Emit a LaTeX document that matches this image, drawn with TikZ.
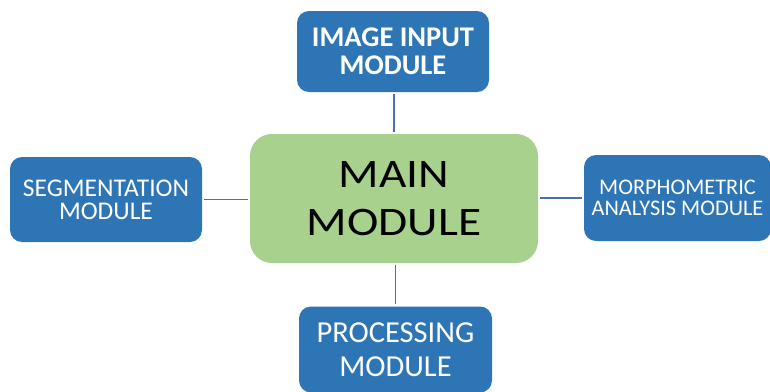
\documentclass[tikz,border=0pt]{standalone}
\usepackage{fontspec}
\setmainfont{Carlito}
\newfontfamily\widefont[FakeStretch=1.17]{Carlito}
\definecolor{boxblue}{HTML}{2E75B6}
\definecolor{boxgreen}{HTML}{A9D18E}
\definecolor{linkblue}{HTML}{4A6FB5}
\begin{document}
\begin{tikzpicture}[x=1pt,y=-1pt,
  modbox/.style={fill=boxblue, draw=none, rounded corners=12pt, text=white, align=center, inner sep=0pt, minimum width=192pt, minimum height=85pt},
  mainbox/.style={fill=boxgreen, draw=none, rounded corners=22pt, text=black, align=center, inner sep=0pt, minimum width=288pt, minimum height=129pt},
  link/.style={draw=linkblue, line width=1.3pt, shorten <=2pt, shorten >=2pt}]
\useasboundingbox (0,0) rectangle (770,391);
\node[mainbox, font=\widefont\fontsize{40.5}{48}\selectfont] (main) at (394,198.5) {MAIN\\MODULE};
\node[modbox, minimum height=81pt, font=\bfseries\fontsize{28.5}{28}\selectfont] (img) at (393,51.5) {IMAGE INPUT\\MODULE};
\node[modbox, font=\fontsize{25.5}{23}\selectfont] (seg) at (106,199.5) {SEGMENTATION\\MODULE};
\node[modbox, minimum width=187pt, minimum height=86pt, font=\fontsize{22.3}{21}\selectfont] (morph) at (677.5,198) {MORPHOMETRIC\\ANALYSIS MODULE};
\node[modbox, minimum width=193pt, minimum height=86pt, font=\fontsize{30.5}{34}\selectfont] (proc) at (395.5,349.5) {PROCESSING\\MODULE};
\draw[link] (img.south -| main.north) -- (main.north);
\draw[link] (main.south -| proc.north) -- (proc.north);
\draw[link] (seg.east) -- (seg.east -| main.west);
\draw[link] (main.east |- morph.west) -- (morph.west);
\end{tikzpicture}
\end{document}
